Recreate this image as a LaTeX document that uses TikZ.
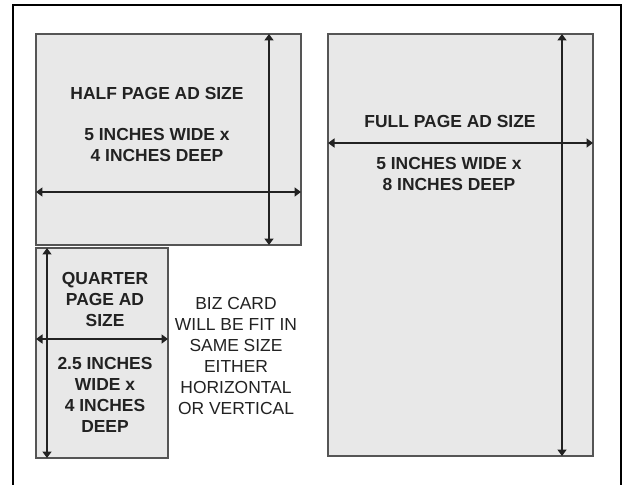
\documentclass[tikz,border=0pt]{standalone}
\usepackage{fontspec}
\setmainfont{Liberation Sans}
\usetikzlibrary{arrows.meta}
\definecolor{boxfill}{HTML}{E8E8E8}
\definecolor{boxline}{HTML}{555555}
\definecolor{ink}{HTML}{222222}
\tikzset{
  adbox/.style={draw=boxline, fill=boxfill, line width=1.4bp, inner sep=0pt, outer sep=0pt},
  dimarrow/.style={draw=ink, line width=2.2bp, {Triangle[width=9bp,length=6.5bp]}-{Triangle[width=9bp,length=6.5bp]}},
  boldlbl/.style={text=ink, font=\fontsize{17.5pt}{21bp}\selectfont\bfseries, align=center, inner sep=0pt, anchor=base},
  plainlbl/.style={text=ink, font=\fontsize{17.5pt}{21bp}\selectfont, align=center, inner sep=0pt, anchor=base},
}
\begin{document}
\begin{tikzpicture}[x=1bp,y=-1bp]
\useasboundingbox (0,0) rectangle (626,485);
\clip (0,0) rectangle (626,485);
\fill[white] (0,0) rectangle (626,485);
\draw[black, line width=2.4bp] (13,500) -- (13,5) -- (621,5) -- (621,500);
% boxes
\node[adbox, minimum width=265bp, minimum height=211bp] (half) at (168.5,139.5) {};
\node[adbox, minimum width=132bp, minimum height=210bp] (quarter) at (102,353) {};
\node[adbox, minimum width=265bp, minimum height=422bp] (full) at (460.5,245) {};
% arrow positions
\coordinate (hv) at (269,0);
\coordinate (hh) at (0,192);
\coordinate (qv) at (47,0);
\coordinate (qh) at (0,339);
\coordinate (fv) at (562,0);
\coordinate (fh) at (0,143);
\draw[dimarrow] (half.north -| hv) -- (half.south -| hv);
\draw[dimarrow] (half.west |- hh) -- (half.east |- hh);
\draw[dimarrow] (quarter.north -| qv) -- (quarter.south -| qv);
\draw[dimarrow] (quarter.west |- qh) -- (quarter.east |- qh);
\draw[dimarrow] (full.north -| fv) -- (full.south -| fv);
\draw[dimarrow] (full.west |- fh) -- (full.east |- fh);
% labels (base anchor = baseline of last line)
\node[boldlbl] (halftitle) at (157,99.2) {HALF PAGE AD SIZE};
\node[boldlbl] (halfsize) at (157,161.2) {5 INCHES WIDE x\\4 INCHES DEEP};
\node[boldlbl] (fulltitle) at (450,127.2) {FULL PAGE AD SIZE};
\node[boldlbl] (fullsize) at (449,190.2) {5 INCHES WIDE x\\8 INCHES DEEP};
\node[boldlbl] (qtitle) at (105,326.2) {QUARTER\\PAGE AD\\SIZE};
\node[boldlbl] (qsize) at (105,432.2) {2.5 INCHES\\WIDE x\\4 INCHES\\DEEP};
\node[plainlbl] (biz) at (236,414.2) {BIZ CARD\\WILL BE FIT IN\\SAME SIZE\\EITHER\\HORIZONTAL\\OR VERTICAL};
\end{tikzpicture}
\end{document}
